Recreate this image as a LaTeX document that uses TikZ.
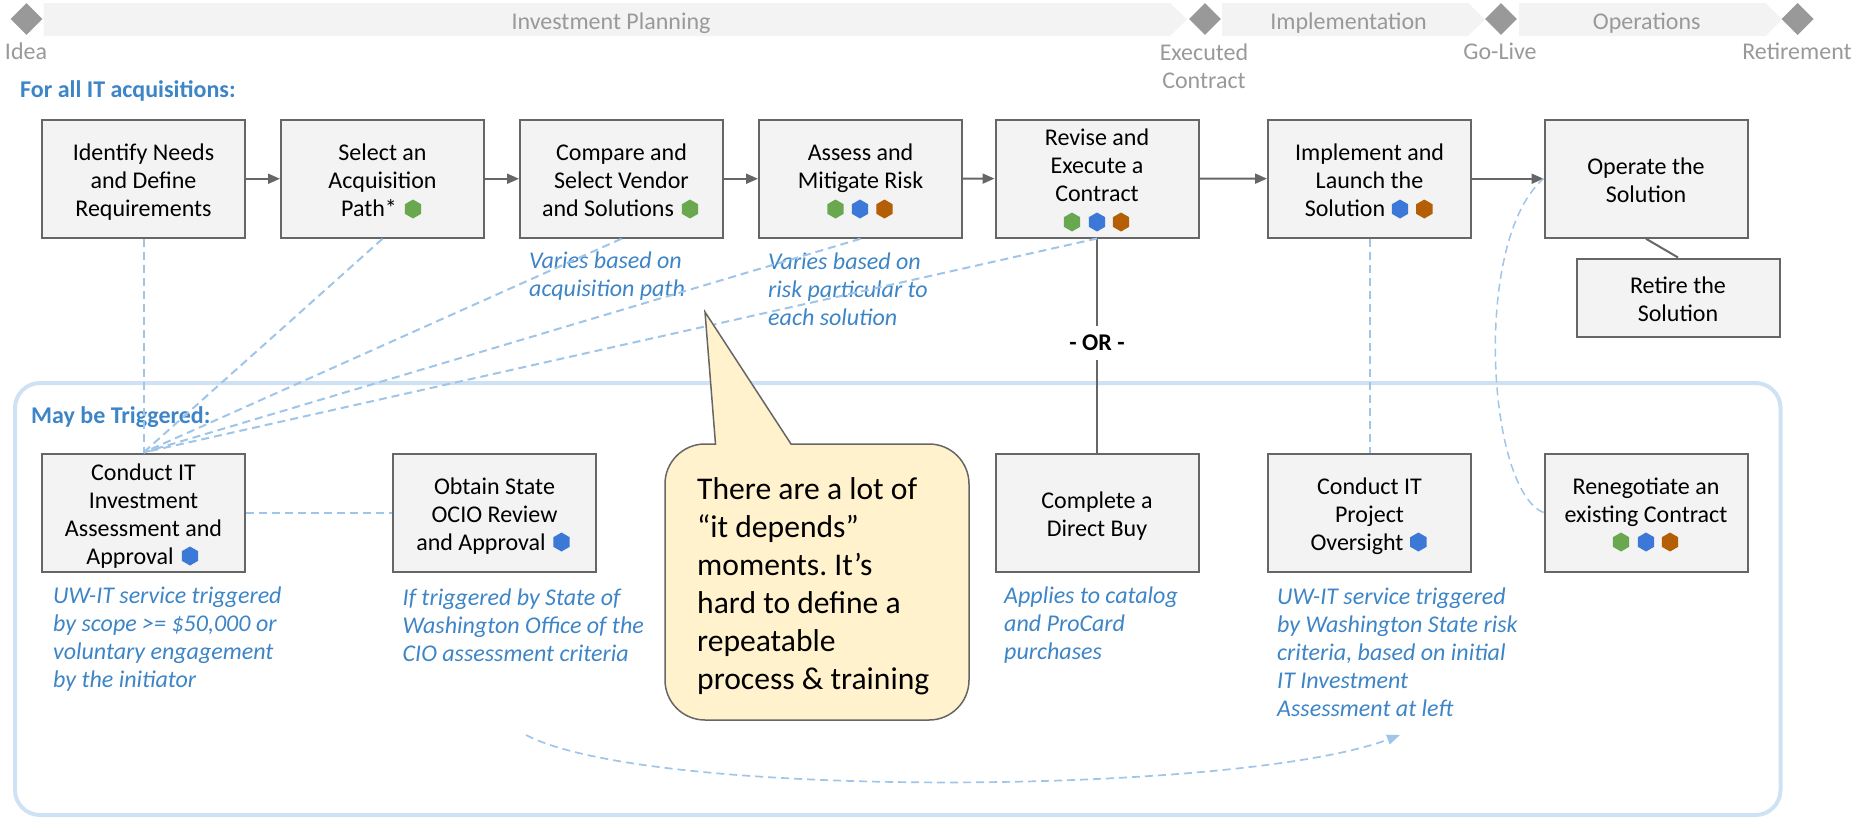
\documentclass[tikz,border=0pt]{standalone}
\usepackage{fontspec}
\setmainfont{Carlito}
\usetikzlibrary{arrows.meta,shapes.geometric}
\definecolor{boxline}{HTML}{666666}
\definecolor{boxfill}{HTML}{F3F3F3}
\definecolor{milestone}{HTML}{999999}
\definecolor{notecol}{HTML}{3D85C6}
\definecolor{dashcol}{HTML}{9FC5E8}
\definecolor{panelcol}{HTML}{CFE2F3}
\definecolor{hexgreen}{HTML}{6AA84F}
\definecolor{hexblue}{HTML}{3C78D8}
\definecolor{hexorange}{HTML}{B45F06}
\definecolor{calloutfill}{HTML}{FFF2CC}
\newcommand{\hxgap}[1]{\hspace*{#1pt}}
\newcommand{\fl}{\rule{0pt}{24pt}}
\frenchspacing
\tikzset{
  basefont/.style={font=\frenchspacing\fontsize{24}{28}\selectfont},
  stepbox/.style={draw=boxline,line width=2pt,fill=boxfill,minimum width=203pt,minimum height=118pt,inner sep=0pt,align=center,basefont,text=black,
    execute at end node={\rule[-5pt]{0pt}{0pt}}},
  gem/.style={diamond,fill=milestone,minimum width=32pt,minimum height=32pt,inner sep=0pt,aspect=1},
  phase/.style={fill=boxfill,draw=none},
  greytext/.style={text=milestone,basefont,align=center,inner sep=0pt},
  note/.style={text=notecol,font=\fontsize{24}{28}\selectfont\itshape,align=left,anchor=west,inner sep=0pt},
  head/.style={text=notecol,font=\fontsize{24}{28}\selectfont\bfseries,anchor=west,inner sep=0pt},
  flow/.style={draw=boxline,line width=2pt,-{Triangle[length=12pt,width=10pt]}},
  plain/.style={draw=boxline,line width=2pt},
  link/.style={draw=dashcol,line width=2pt,dash pattern=on 8pt off 5pt},
  thinlink/.style={draw=dashcol,line width=1.5pt,dash pattern=on 8pt off 5pt},
  hx/.style={regular polygon,regular polygon sides=6,shape border rotate=90,minimum size=19pt,inner sep=0pt,draw=none},
  hg/.style={hx,fill=hexgreen},
  hb/.style={hx,fill=hexblue},
  ho/.style={hx,fill=hexorange},
}
\begin{document}
\begin{tikzpicture}[x=1pt,y=-1pt]
\useasboundingbox (0,0) rectangle (1855,817);
% panel
\draw[panelcol,line width=4pt,rounded corners=25pt] (15,383) rectangle (1780.5,815);
% phases
\fill[phase] (43.5,3) -- (1170,3) -- (1187,19.5) -- (1170,36) -- (43.5,36) -- cycle;
\fill[phase] (1222,3) -- (1468,3) -- (1485,19.5) -- (1468,36) -- (1222,36) -- cycle;
\fill[phase] (1519,3) -- (1765.5,3) -- (1782,19.5) -- (1765.5,36) -- (1519,36) -- cycle;
\node[greytext] (pInv) at (611,23.5) {Investment Planning};
\node[greytext] (pImp) at (1348.6,23.5) {Implementation};
\node[greytext] (pOps) at (1646.7,23.5) {Operations};
% milestones
\node[gem] (mIdea) at (26.5,19) {};
\node[gem] (mExec) at (1205,19) {};
\node[gem] (mLive) at (1501,19) {};
\node[gem] (mRet) at (1797.6,19) {};
\node[greytext] (lIdea) at (26,51.5) {Idea};
\node[greytext] (lExec) at (1204,66) {Executed\\Contract};
\node[greytext] (lLive) at (1500,51.5) {Go-Live};
\node[greytext] (lRet) at (1797,51.5) {Retirement};
% headings
\node[head] (hAll) at (20,91) {For all IT acquisitions:};
\node[head] (hMay) at (31,417) {May be Triggered:};
% notes
\node[note] (n1) at (529,275.7) {Varies based on\\acquisition path};
\node[note] (n2) at (768,289.7) {Varies based on\\risk particular to\\each solution};
\node[note] (n3) at (53,639) {UW-IT service triggered\\by scope >= \$50,000 or\\voluntary engagement\\by the initiator};
\node[note] (n4) at (402.5,625) {If triggered by State of\\Washington Office of the\\CIO assessment criteria};
\node[note] (n5) at (1004,625) {Applies to catalog\\and ProCard\\purchases};
\node[note] (n6) at (1277,652) {UW-IT service triggered\\by Washington State risk\\criteria, based on initial\\IT Investment\\Assessment at left};
% boxes
\node[stepbox] (b1) at (143.5,178.75) {\fl Identify Needs\\and Define\\Requirements};
\node[stepbox] (b2) at (382.5,178.75) {\fl Select an\\Acquisition\\Path*\hxgap{27}};
\node[stepbox] (b3) at (621.5,178.75) {\fl Compare and\\Select Vendor\\and Solutions\hxgap{27}};
\node[stepbox] (b4) at (860.5,178.75) {\fl Assess and\\Mitigate Risk\\\mbox{}};
\node[stepbox] (b5) at (1097,178.5) {\fl Revise and\\Execute a\\Contract\\\mbox{}\rule[-7pt]{0pt}{0pt}};
\node[stepbox] (b6) at (1369.5,178.75) {\fl Implement and\\Launch the\\Solution\hxgap{49}};
\node[stepbox] (b7) at (1646,178.75) {\fl Operate the\\Solution};
\node[stepbox,minimum height=78pt] (b8) at (1678,297.5) {\fl Retire the\\Solution};
\node[stepbox] (c1) at (143.5,512.5) {\fl Conduct IT\\Investment\\Assessment and\\Approval\hxgap{27}};
\node[stepbox] (c2) at (494.5,512.5) {\fl Obtain State\\OCIO Review\\and Approval\hxgap{27}};
\node[stepbox] (c3) at (1097,512.5) {\fl Complete a\\Direct Buy};
\node[stepbox] (c4) at (1369.5,512.5) {\fl Conduct IT\\Project\\Oversight\hxgap{25}};
\node[stepbox] (c5) at (1646,512.5) {\fl Renegotiate an\\existing Contract\\\mbox{}};
% hexagons
\node[hg] (x1) at (413,209) {};
\node[hg] (x2) at (690,209) {};
\node[hg] (x3) at (835.5,209) {};
\node[hb] (x4) at (860,209) {};
\node[ho] (x5) at (884.5,209) {};
\node[hg] (x6) at (1072,222) {};
\node[hb] (x7) at (1097,222) {};
\node[ho] (x8) at (1121,222) {};
\node[hb] (x9) at (1400,209) {};
\node[ho] (x10) at (1424.3,209) {};
\node[hb] (x11) at (190,556) {};
\node[hb] (x12) at (561.5,542) {};
\node[hb] (x13) at (1418.4,542) {};
\node[hg] (x14) at (1621,542) {};
\node[hb] (x15) at (1646,542) {};
\node[ho] (x16) at (1670,542) {};
% flow
\draw[flow] (b1) -- (b2);
\draw[flow] (b2) -- (b3);
\draw[flow] (b3) -- (b4);
\draw[flow] (b4) -- (b5);
\draw[flow] (b5) -- (b6);
\draw[flow] (b6) -- (b7);
\draw[plain] (b7.south) -- (b8.north);
\node[font=\fontsize{24}{28}\selectfont\bfseries,text=black,inner sep=0pt,minimum height=33pt] (orlab) at (1097,343) {- OR -};
\draw[plain] (b5.south) -- (orlab.north);
\draw[plain] (orlab.south) -- (c3.north);
% dashed links
\draw[link] (b1.south) -- (c1.north);
\draw[link] (b2.south) -- (c1.north);
\draw[link] (b3.south) -- (c1.north);
\draw[link] (b4.south) -- (c1.north);
\draw[link] (b5.south) -- (c1.north);
\draw[link] (c1.east) -- (c2.west);
\draw[link] (b6.south) -- (c4.north);
\draw[thinlink] (c5.west) .. controls (1487,490) and (1472,240) .. (b7.west);
\coordinate (curveA) at (526,735);
\coordinate (curveB) at (1400,735);
\draw[link,line width=1.7pt,-{Triangle[length=13pt,width=10pt,fill=dashcol]}] (curveA) .. controls (650,800) and (1241,795) .. (curveB);
% callout
\draw[fill=calloutfill,draw=boxline,line width=1.5pt]
  (705,312) -- (791,444) -- (929,444) arc[start angle=90,end angle=0,radius=40pt]
  -- (969,680) arc[start angle=0,end angle=-90,radius=40pt]
  -- (705,720) arc[start angle=-90,end angle=-180,radius=40pt]
  -- (665,484) arc[start angle=180,end angle=90,radius=40pt]
  -- (715.5,444) -- cycle;
\node[anchor=west,inner sep=0pt,align=left,text=black,font=\frenchspacing\fontsize{31.6}{38}\selectfont] (calltext) at (697,586) {There are a lot of\\“it depends”\\moments. It’s\\hard to define a\\repeatable\\process \& training};
\end{tikzpicture}
\end{document}
